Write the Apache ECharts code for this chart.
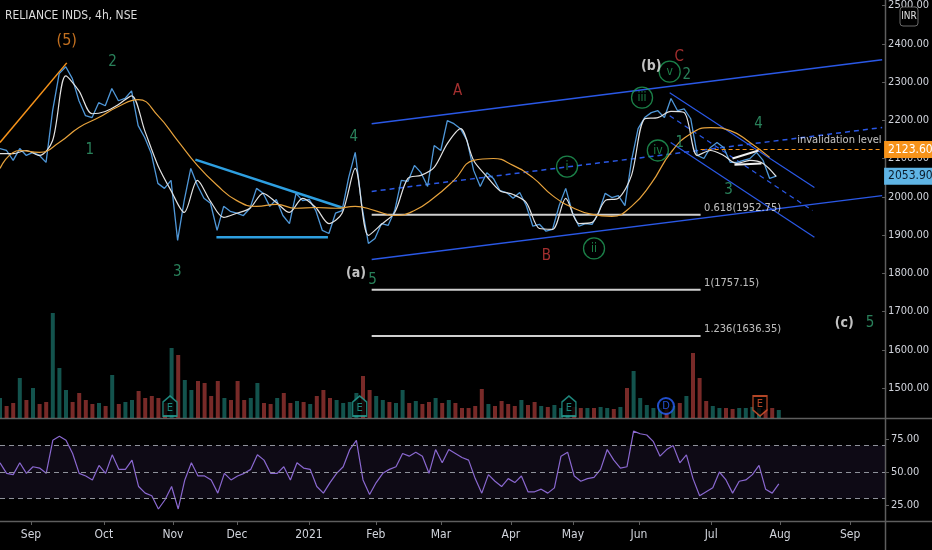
<!DOCTYPE html>
<html><head><meta charset="utf-8">
<script src="https://cdn.jsdelivr.net/npm/echarts@6/dist/echarts.min.js"></script>
<style>html,body{margin:0;padding:0;background:#000;}#c{width:932px;height:550px;}</style>
</head><body><div id="c"></div>
<script>
const FONT = "'Liberation Sans Narrow','DejaVu Sans Condensed',Roboto,sans-serif";

// ---- data (x unit = trading-day index) ----
const priceStep = 2;
const closePrices = [2126,2121,2095,2126,2108,2116,2108,2090,2225,2322,2340,2309,2251,2212,2207,2246,2238,2283,2251,2257,
2277,2186,2155,2113,2035,2022,2043,1886,1990,2074,2030,1996,1983,1912,1975,1962,1957,1951,1970,2022,
2009,1975,1993,1951,1930,2009,1990,1993,1964,1912,1904,1957,1964,2050,2116,1977,1878,1891,1930,1925,
1964,2043,2040,2082,2063,2027,2134,2121,2199,2191,2178,2147,2069,2027,2063,2048,2016,2011,1996,2011,
1977,1923,1928,1910,1915,1977,2022,1959,1923,1930,1928,1959,2009,1998,2003,1977,2095,2178,2207,2220,
2225,2207,2257,2225,2230,2204,2108,2100,2129,2142,2129,2090,2090,2095,2100,2116,2095,2048,2053.9];
const shortMaStep = 4;
const shortMa = [2113,2113,2121,2108,2147,2316,2277,2217,2223,2241,2264,2173,2082,2016,1959,2043,1988,1946,1957,1970,
2009,1985,1959,1996,1972,1930,1957,2074,1899,1928,1959,2048,2056,2077,2139,2178,2095,2053,2016,2006,
1985,1917,1915,1996,1930,1933,1990,1996,2056,2204,2207,2223,2220,2108,2121,2108,2087,2095,2087,2053];
const longMaStep = 6;
const longMa = [2074,2121,2116,2142,2181,2207,2236,2254,2212,2147,2082,2030,1990,1975,1980,1970,1972,1970,1975,1964,
1951,1964,1998,2043,2095,2100,2082,2050,2003,1972,1954,1949,1975,2035,2116,2165,2181,2173,2142,2103];
const rsiStep = 2;
const rsiValues = [57,49,48,57,49,54,53,49,74,77,74,64,49,47,44,55,49,63,52,52,
59,39,34,32,22,29,39,22,44,57,47,47,44,34,49,44,47,49,52,63,
59,49,49,54,44,57,53,52,39,34,42,49,54,67,74,44,33,42,49,52,
54,64,62,65,62,49,67,57,67,64,61,59,45,34,48,43,39,45,42,47,
35,35,37,34,38,62,65,47,43,45,46,52,67,59,53,54,81,79,78,73,
62,67,70,57,63,45,32,35,38,50,44,34,43,44,48,55,37,34,41];
const rsiLevels = [70,50,30];
const volStep = 2;
const volumes = [20,12,15,40,18,30,14,16,105,50,28,16,25,18,14,15,12,43,14,16,
18,27,20,22,20,15,70,63,38,28,37,35,22,37,20,18,37,18,20,35,
15,14,20,25,15,17,16,14,22,28,20,18,15,16,25,42,28,22,18,16,
15,28,15,17,14,16,20,15,18,15,10,10,12,29,14,12,17,14,12,18,
13,16,12,11,13,10,10,11,10,10,10,11,10,9,11,30,47,20,13,10,
10,10,12,15,22,65,40,17,12,10,10,9,10,10,11,10,9,10,8];

const monthTicks = [[9.4,'Sep'],[31.5,'Oct'],[52.4,'Nov'],[71.8,'Dec'],[93.6,'2021'],[113.9,'Feb'],[133.6,'Mar'],
[154.8,'Apr'],[173.6,'May'],[193.6,'Jun'],[215.5,'Jul'],[236.4,'Aug'],[257.6,'Sep']];
const priceTicks = [1500,1600,1700,1800,1900,2000,2100,2200,2300,2400,2500];
const rsiTicks = [25,50,75];

// drawings (day, price)
const impulseLine = [[0,2142],[20.3,2350]];
const triangleUpper = [[59.4,2097],[103.9,1972]];
const triangleLower = [[65.8,1894],[99.7,1894]];
const channelUpper = [[113.0,2191],[268.2,2358]];
const channelLower = [[113.0,1836],[268.2,2003]];
const channelMid = [[113.0,2014],[268.2,2181]];
const descUpper = [[203.6,2272],[247.6,2024]];
const descLower = [[203.9,2142],[247.6,1894]];
const descMid = [[203.6,2212],[247.0,1964]];
const wedgeUpper = [[222.7,2100],[230.6,2121]];
const wedgeLower = [[223.3,2084],[231.5,2087]];
const fibStart = 113.0, fibEnd = 213.0;
const fibLevels = [['0.618',1952.75],['1',1757.15],['1.236',1636.35]];
const invalidationPrice = 2123.60, invalidationStart = 213.0;
const invalidationNote = [[255.2,2147,'invalidation level']];

// wave labels (day, price, text)
const degreeLabels = [[20.3,2408,'(5)']];
const greenLabels = [[34.2,2353,'2'],[27.3,2121,'1'],[53.9,1803,'3'],[107.6,2157,'4'],[113.3,1782,'5'],
  [208.8,2319,'2'],[206.7,2139,'1'],[221.5,2017,'3'],[230.6,2191,'4'],[264.5,1670,'5']];
const redLabels = [[139.1,2275,'A'],[166.1,1844,'B'],[206.5,2366,'C']];
const whiteLabels = [[108.2,1800,'(a)'],[198.0,2340,'(b)'],[256.7,1670,'(c)']];
const circledLabels = [[172.4,2079,'i'],[180.6,1865,'ii'],[195.2,2259,'iii'],[200.0,2121,'iv'],[203.6,2327,'v']];

// events on the volume pane
const earningsEvents = [51.5,109.0,172.4];
const dividendEvents = [201.8];
const upcomingEarnings = [230.3];

// ---- layout constants ----
const X_MAX = 268.18;
const PRICE_MIN = 1421.7, PRICE_MAX = 2512.17;
const RSI_MIN = 12.9, RSI_MAX = 90.9;

const chart = echarts.init(document.getElementById('c'), null, {renderer:'canvas'});

function seg(data, color, width, type, z){
  return {type:'line', xAxisIndex:0, yAxisIndex:0, data:data, symbol:'none', silent:true, z:z||3,
    lineStyle:{color:color, width:width, type:type||'solid'}, animation:false};
}
function labels(data, color, size, weight){
  return {type:'scatter', xAxisIndex:0, yAxisIndex:0, data:data, symbolSize:1, silent:true, z:6,
    itemStyle:{color:'rgba(0,0,0,0)'},
    label:{show:true, position:'inside', formatter:p=>p.value[2], color:color, fontSize:size,
      fontFamily:FONT, fontWeight:weight||'normal'}};
}
const axisTxt = '#d1d4dc', lineGray = '#5e5e5e';

const series = [
  // volume
  {type:'bar', xAxisIndex:1, yAxisIndex:1, barWidth:4, silent:true,
   data: volumes.map((v,k)=>({value:[k*volStep, v],
     itemStyle:{color: (k===0 || closePrices[k]>=closePrices[k-1]) ? 'rgba(38,166,154,0.5)' : 'rgba(239,83,80,0.5)'}}))},
  // event markers
  {type:'scatter', xAxisIndex:1, yAxisIndex:1, silent:true, z:5,
   data: earningsEvents.map(d=>[d,12]), symbol:'path://M7,0 L14,6 L14,20 L0,20 L0,6 Z', symbolSize:[14,20],
   itemStyle:{color:'#000', borderColor:'#26a69a', borderWidth:1.5},
   label:{show:true, position:'inside', formatter:'E', color:'#26a69a', fontSize:11, fontFamily:FONT, offset:[0,2]}},
  {type:'scatter', xAxisIndex:1, yAxisIndex:1, silent:true, z:5,
   data: dividendEvents.map(d=>[d,12]), symbol:'circle', symbolSize:16,
   itemStyle:{color:'#000', borderColor:'#2962ff', borderWidth:2},
   label:{show:true, position:'inside', formatter:'D', color:'#2962ff', fontSize:11, fontFamily:FONT}},
  {type:'scatter', xAxisIndex:1, yAxisIndex:1, silent:true, z:5,
   data: upcomingEarnings.map(d=>[d,12]), symbol:'path://M0,0 L14,0 L14,14 L7,20 L0,14 Z', symbolSize:[14,20],
   itemStyle:{color:'#000', borderColor:'#e0572f', borderWidth:1.5},
   label:{show:true, position:'inside', formatter:'E', color:'#e0572f', fontSize:11, fontFamily:FONT, offset:[0,-2]}},
  // drawings
  seg(impulseLine,'#f7931a',1.5),
  seg(triangleUpper,'#2e9fe0',2.5),
  seg(triangleLower,'#2e9fe0',2.5),
  seg(channelUpper,'#2a58e6',1.5),
  seg(channelLower,'#2a58e6',1.5),
  seg(channelMid,'#2a58e6',1.5,[5,4]),
  seg(descUpper,'#2a58e6',1.2),
  seg(descLower,'#2a58e6',1.2),
  seg(descMid,'#2a58e6',1.2,[5,4]),
  ...fibLevels.map(f=>seg([[fibStart,f[1]],[fibEnd,f[1]]],'#cfcfcf',2)),
  {type:'scatter', xAxisIndex:0, yAxisIndex:0, silent:true, z:6, symbolSize:1, itemStyle:{color:'rgba(0,0,0,0)'},
   data: fibLevels.map(f=>[fibEnd, f[1], f[0]+'('+f[1].toFixed(2)+')']),
   label:{show:true, position:'right', distance:3, offset:[0,-7], formatter:p=>p.value[2], color:'#ececec', fontSize:11, fontFamily:FONT}},
  // price lines
  {type:'line', xAxisIndex:0, yAxisIndex:0, symbol:'none', silent:true, z:4,
   data: closePrices.map((v,k)=>[k*priceStep, v]), lineStyle:{color:'#4f97d8', width:1.3},
   markLine:{symbol:'none', silent:true, lineStyle:{color:'rgba(0,0,0,0)', width:0},
     label:{show:true, position:'end', distance:2, formatter:p=>Number(p.value).toFixed(2),
       backgroundColor:'#5fb4e5', color:'#0c1c2c', padding:[3,4,2,4], fontSize:12, fontFamily:FONT},
     data:[{yAxis: closePrices[closePrices.length-1]}]}},
  {type:'line', xAxisIndex:0, yAxisIndex:0, symbol:'none', silent:true, z:4, smooth:0.3,
   data: shortMa.map((v,k)=>[k*shortMaStep, v]), lineStyle:{color:'#e2e2e2', width:1.2}},
  {type:'line', xAxisIndex:0, yAxisIndex:0, symbol:'none', silent:true, z:4, smooth:true,
   data: longMa.map((v,k)=>[k*longMaStep, v]), lineStyle:{color:'#e6a23c', width:1.2}},
  seg(wedgeUpper,'#f0f0f0',2,'solid',5),
  seg(wedgeLower,'#f0f0f0',2,'solid',5),
  // invalidation level
  {type:'line', xAxisIndex:0, yAxisIndex:0, symbol:'none', silent:true, z:5,
   data:[[invalidationStart, invalidationPrice],[X_MAX, invalidationPrice]],
   lineStyle:{color:'#f7931a', width:1.2, type:[4,3]},
   endLabel:{show:true, distance:2, formatter:p=>p.value[1].toFixed(2), backgroundColor:'#f7931a',
     color:'#ffffff', padding:[3,4,2,4], fontSize:12, fontFamily:FONT}},
  labels(invalidationNote,'#f2f2f2',11),
  // wave labels
  labels(degreeLabels,'#f28c28',16),
  labels(greenLabels,'#33a070',15),
  labels(redLabels,'#cc3b3b',15),
  labels(whiteLabels,'#f2f2f2',14,'bold'),
  {type:'scatter', xAxisIndex:0, yAxisIndex:0, silent:true, z:6, data:circledLabels, symbol:'circle', symbolSize:21,
   itemStyle:{color:'rgba(0,0,0,0)', borderColor:'#22a05a', borderWidth:1.3},
   label:{show:true, position:'inside', formatter:p=>p.value[2], color:'#22a05a', fontSize:12, fontFamily:FONT}},
  // RSI
  {type:'line', xAxisIndex:2, yAxisIndex:2, symbol:'none', silent:true, z:4,
   data: rsiValues.map((v,k)=>[k*rsiStep, v]), lineStyle:{color:'#8a68d0', width:1.2},
   markArea:{silent:true, itemStyle:{color:'rgba(126,87,194,0.11)'}, data:[[{yAxis:rsiLevels[2]},{yAxis:rsiLevels[0]}]]},
   markLine:{silent:true, symbol:'none', label:{show:false},
     lineStyle:{color:'#8f929b', width:1, type:[5,4]}, data: rsiLevels.map(l=>({yAxis:l}))}}
];

const option = {
  backgroundColor:'#000000',
  animation:false,
  title:{text:'RELIANCE INDS, 4h, NSE', left:5, top:10, padding:0,
    textStyle:{color:'#dcdcdc', fontSize:12, fontWeight:'normal', fontFamily:FONT}},
  grid:[
    {left:0, right:47, top:0, height:418},
    {left:0, right:47, top:308, height:110},
    {left:0, right:47, top:418, height:103}
  ],
  xAxis:[
    {gridIndex:0, type:'value', min:0, max:X_MAX, show:false},
    {gridIndex:1, type:'value', min:0, max:X_MAX, show:false},
    {gridIndex:2, type:'value', min:0, max:X_MAX, splitLine:{show:false}, axisLine:{show:false, onZero:false},
     axisTick:{show:true, length:4, lineStyle:{color:lineGray}, customValues: monthTicks.map(m=>m[0])},
     axisLabel:{color:axisTxt, fontSize:12, fontFamily:FONT, margin:8, customValues: monthTicks.map(m=>m[0]),
       formatter:v=>{const m=monthTicks.find(t=>Math.abs(t[0]-v)<0.01); return m?m[1]:'';}}}
  ],
  yAxis:[
    {gridIndex:0, type:'value', position:'right', min:PRICE_MIN, max:PRICE_MAX, splitLine:{show:false}, axisLine:{show:false, onZero:false},
     axisTick:{show:true, length:4, lineStyle:{color:lineGray}, customValues:priceTicks},
     axisLabel:{color:axisTxt, fontSize:11, fontFamily:FONT, margin:6, customValues:priceTicks, formatter:v=>v.toFixed(2)}},
    {gridIndex:1, type:'value', min:0, max:110, show:false},
    {gridIndex:2, type:'value', position:'right', min:RSI_MIN, max:RSI_MAX, splitLine:{show:false}, axisLine:{show:false, onZero:false},
     axisTick:{show:true, length:4, lineStyle:{color:lineGray}, customValues:rsiTicks},
     axisLabel:{color:axisTxt, fontSize:11, fontFamily:FONT, margin:6, customValues:rsiTicks, formatter:v=>v.toFixed(2)}}
  ],
  graphic:[
    {type:'line', z:0, shape:{x1:0,y1:418.5,x2:932,y2:418.5}, style:{stroke:lineGray, lineWidth:1.5}},
    {type:'line', z:0, shape:{x1:0,y1:521.5,x2:932,y2:521.5}, style:{stroke:lineGray, lineWidth:1.5}},
    {type:'line', z:0, shape:{x1:885.5,y1:0,x2:885.5,y2:550}, style:{stroke:lineGray, lineWidth:1.5}},
    {type:'rect', z:10, shape:{x:900,y:7,width:18,height:19,r:3}, style:{fill:'#000', stroke:'#6a6a6a', lineWidth:1}},
    {type:'text', z:11, x:909, y:16.5, style:{text:'INR', fill:'#e0e0e0', fontSize:10, fontFamily:FONT, align:'center', verticalAlign:'middle'}}
  ],
  series: series
};
chart.setOption(option);
</script>
</body></html>
